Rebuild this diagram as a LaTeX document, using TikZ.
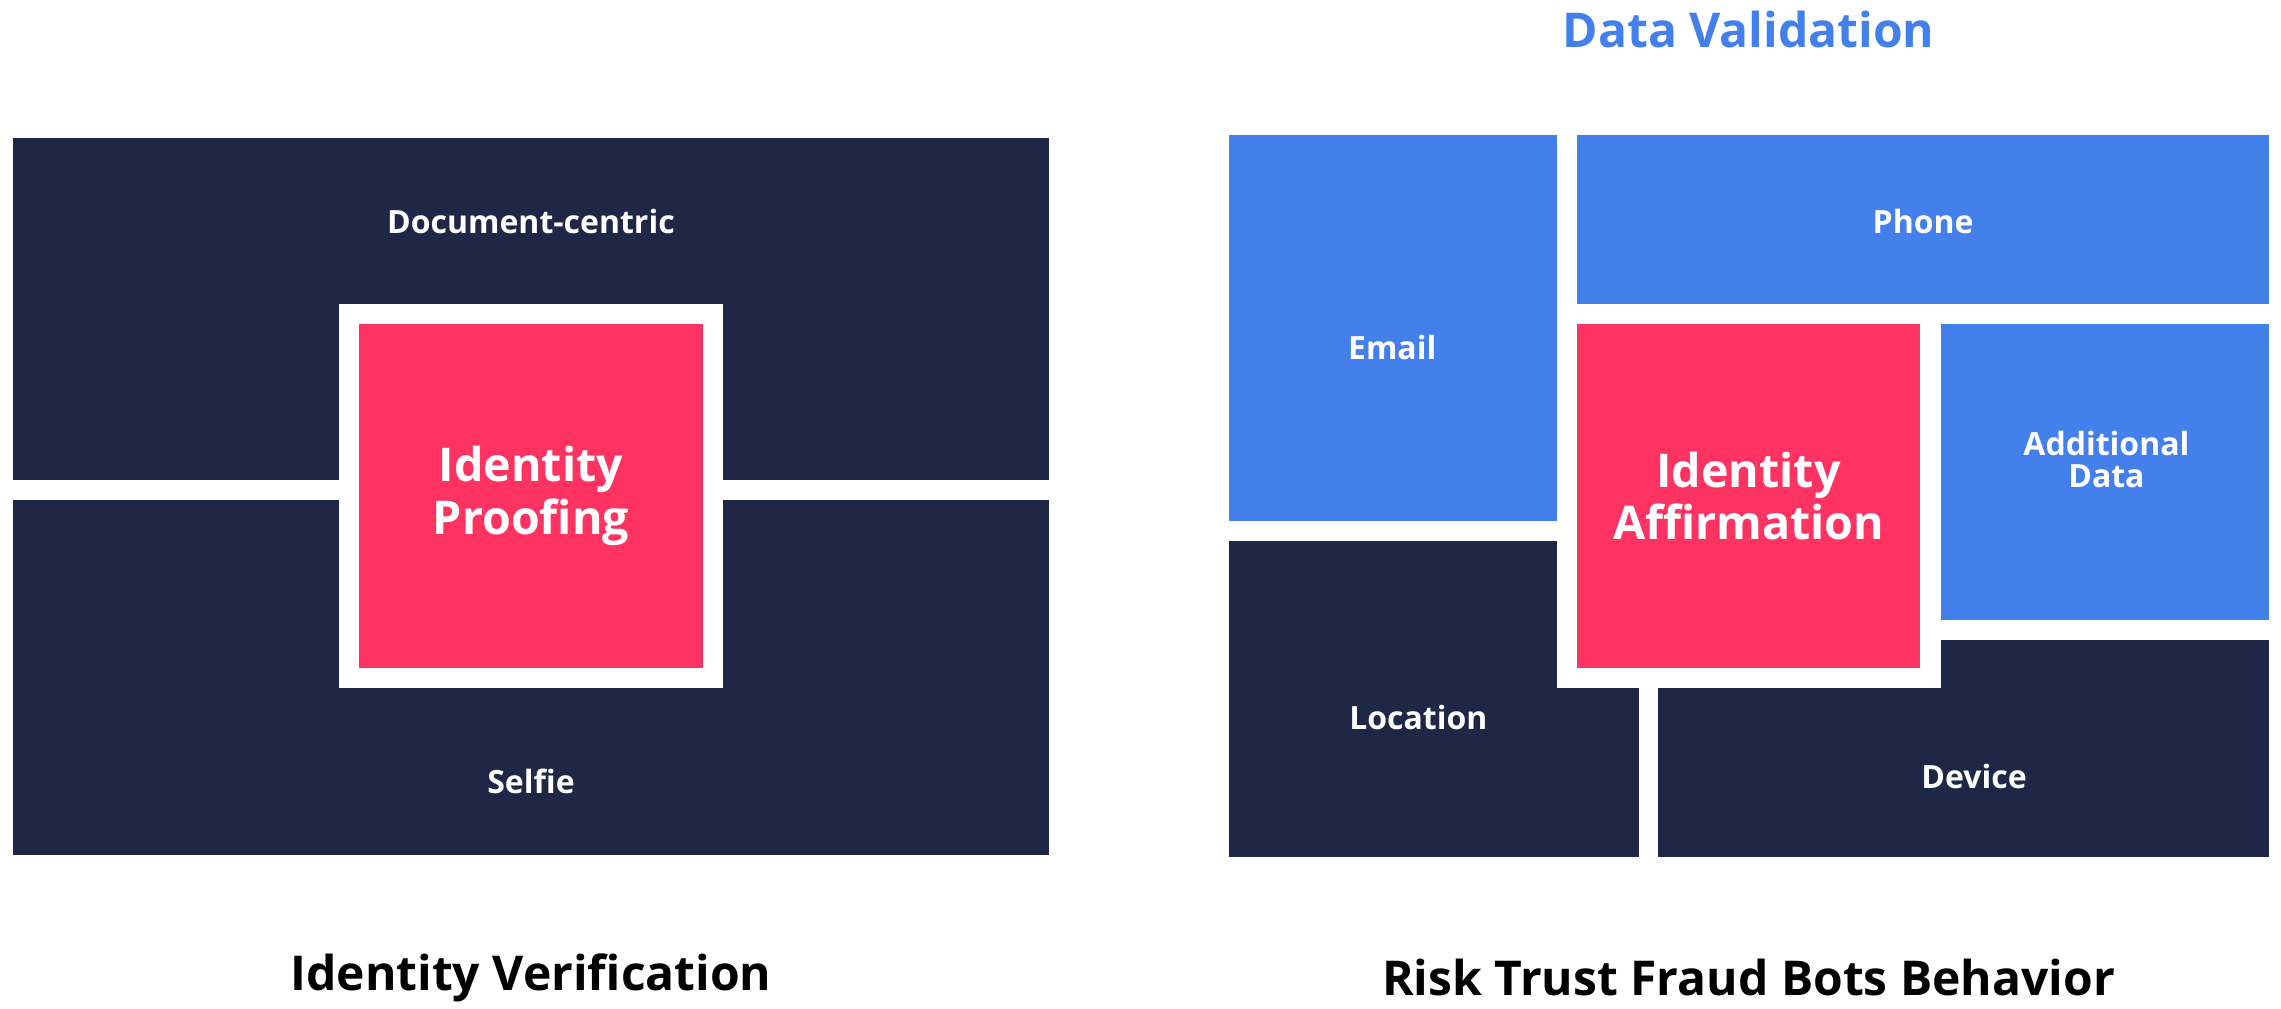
\documentclass[tikz,border=0pt]{standalone}
\usepackage{fontspec}
\setmainfont{Open Sans}
\definecolor{navy}{HTML}{1E2745}
\definecolor{pinkc}{HTML}{FF3361}
\definecolor{bluec}{HTML}{4480EC}
\begin{document}
\begin{tikzpicture}[x=1pt,y=-1pt,
  lbl/.style={text=white,font=\fontsize{22}{26}\selectfont\bfseries,align=center},
  big/.style={text=white,font=\fontsize{32}{38}\selectfont\bfseries,align=center},
  ttl/.style={text=black,font=\fontsize{33}{40}\selectfont\bfseries}]
\useasboundingbox (0,0) rectangle (1568,693);
% left
\fill[navy] (9,95) rectangle (721,330);
\fill[navy] (9,344) rectangle (721,588);
\fill[white] (233,209) rectangle (497,473);
\fill[pinkc] (247,223) rectangle (483,459);
\node[lbl] (doc) at (365,152) {Document-centric};
\node[lbl] (selfie) at (365,537) {Selfie};
\node[big] (ip) at (365,341) {Identity\\[-2pt]Proofing};
\node[ttl] (iv) at (365,672) {Identity Verification};
% right
\fill[bluec] (845,93) rectangle (1070,358);
\fill[bluec] (1084,93) rectangle (1560,209);
\fill[bluec] (1334,223) rectangle (1560,426);
\fill[navy] (845,372) rectangle (1127,589);
\fill[navy] (1140,440) rectangle (1560,589);
\fill[white] (1070,209) rectangle (1334,473);
\fill[pinkc] (1084,223) rectangle (1320,459);
\node[lbl] (email) at (957,239) {Email};
\node[lbl] (phone) at (1322,152) {Phone};
\node[lbl] (add) at (1448,316) {Additional\\[-4pt]Data};
\node[lbl] (loc) at (975,493) {Location};
\node[lbl] (dev) at (1357,534) {Device};
\node[big] (ia) at (1202,341) {Identity\\[-2pt]Affirmation};
\node[ttl,text=bluec] (dv) at (1202,20) {Data Validation};
\node[ttl] (rt) at (1202,672) {Risk Trust Fraud Bots Behavior};
\end{tikzpicture}
\end{document}
